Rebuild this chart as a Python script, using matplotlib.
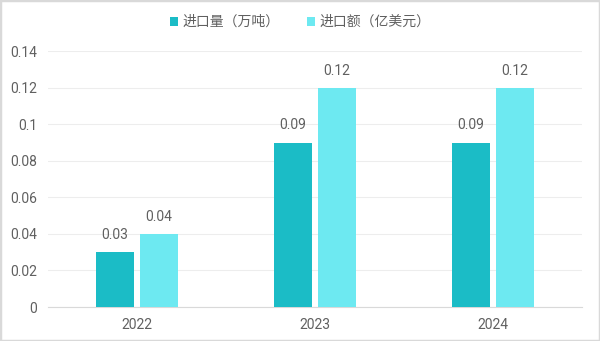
import matplotlib.pyplot as plt
import numpy as np
from matplotlib.patches import Rectangle

plt.rcParams['font.family'] = ['Roboto', 'Noto Sans CJK SC', 'DejaVu Sans']

years = ['2022', '2023', '2024']
volume = [0.03, 0.09, 0.09]      # 进口量（万吨）
value = [0.04, 0.12, 0.12]       # 进口额（亿美元）
series_names = ['进口量（万吨）', '进口额（亿美元）']

c_dark = '#1BBCC6'
c_light = '#6DE9F1'
txt = '#606060'

fig = plt.figure(figsize=(6, 3.41), dpi=100)
ax = fig.add_axes([0.08, 0.0997, 0.89, 0.7503])

x = np.arange(len(years))
w = 0.213
gap = 0.017
b1 = ax.bar(x - w / 2 - gap, volume, w, color=c_dark, label=series_names[0], zorder=3)
b2 = ax.bar(x + w / 2 + gap, value, w, color=c_light, label=series_names[1], zorder=3)

for bars, vals in ((b1, volume), (b2, value)):
    for rect, v in zip(bars, vals):
        ax.text(rect.get_x() + rect.get_width() / 2, v + 0.0055, f'{v:g}',
                ha='center', va='bottom', fontsize=10, color=txt)

ax.set_xlim(-0.5, 2.5)
ax.set_ylim(0, 0.14)
ax.set_xticks(x)
ax.set_xticklabels(years)
ax.set_yticks(np.arange(0, 0.141, 0.02))
ax.set_yticklabels(['0', '0.02', '0.04', '0.06', '0.08', '0.1', '0.12', '0.14'])
ax.tick_params(length=0, labelsize=10, labelcolor=txt, pad=8)
ax.yaxis.grid(True, color='#EDEDED', lw=0.8, zorder=0)
for s in ('top', 'right', 'left'):
    ax.spines[s].set_visible(False)
ax.spines['bottom'].set_color('#D9D9D9')

fig.legend(handles=[b1, b2], loc='center', bbox_to_anchor=(0.5, 0.935), ncol=2,
           frameon=False, fontsize=10, labelcolor=txt, handlelength=0.6,
           handleheight=0.6, handletextpad=0.3, columnspacing=2.0)

fig.patches.append(Rectangle((0, 0), 1, 1, transform=fig.transFigure,
                             fill=False, edgecolor='#D9D9D9', lw=2.5))

fig.savefig('out.png', dpi=100)
